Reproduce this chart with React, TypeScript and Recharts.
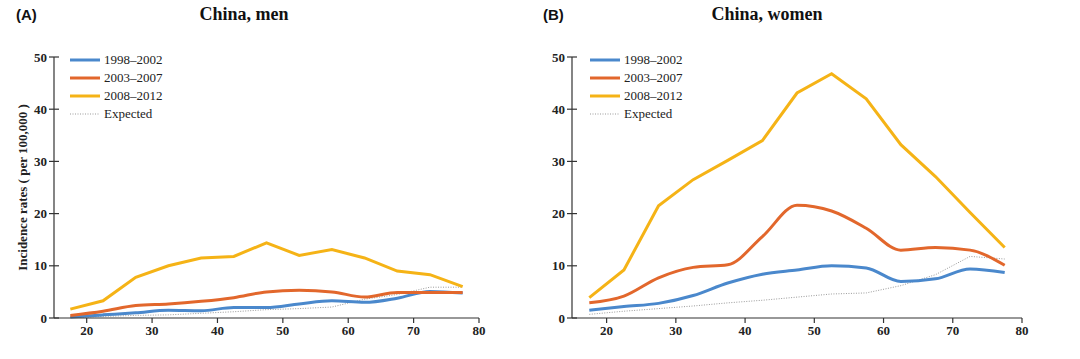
import { LineChart, Line, XAxis, YAxis, Legend } from "recharts";

const AGES = [17.5, 22.5, 27.5, 32.5, 37.5, 42.5, 47.5, 52.5, 57.5, 62.5, 67.5, 72.5, 77.5];

const MEN_1998 = [0.2, 0.6, 1.0, 1.5, 1.4, 2.0, 2.0, 2.7, 3.3, 3.0, 3.8, 5.1, 4.8];
const MEN_2003 = [0.5, 1.3, 2.4, 2.7, 3.2, 3.9, 5.0, 5.3, 5.0, 4.0, 4.9, 4.9, 4.9];
const MEN_2008 = [1.7, 3.3, 7.8, 10.0, 11.5, 11.8, 14.4, 12.0, 13.1, 11.5, 9.0, 8.3, 6.0];
const MEN_EXPECTED = [0.1, 0.3, 0.5, 0.6, 0.9, 1.2, 1.6, 1.8, 2.1, 3.6, 4.5, 5.9, 5.9];

const WOMEN_1998 = [1.5, 2.2, 2.8, 4.3, 6.7, 8.4, 9.2, 10.0, 9.6, 7.0, 7.5, 9.4, 8.7];
const WOMEN_2003 = [2.9, 4.2, 7.7, 9.7, 10.2, 15.6, 21.6, 20.5, 17.2, 13.0, 13.5, 13.0, 10.1];
const WOMEN_2008 = [3.9, 9.2, 21.5, 26.5, 30.2, 34.0, 43.1, 46.8, 42.0, 33.2, 27.1, 20.2, 13.5];
const WOMEN_EXPECTED = [0.7, 1.3, 1.8, 2.3, 2.9, 3.4, 4.0, 4.6, 4.8, 6.2, 8.3, 11.8, 11.3];

const X_TICKS = [20, 30, 40, 50, 60, 70, 80];
const Y_TICKS = [0, 10, 20, 30, 40, 50];

const BLUE = "#4a88cc";
const ORANGE = "#e2672c";
const YELLOW = "#f5b316";
const GREY = "#9a9a9a";
const AXIS = "#333";
const SERIF = "'Liberation Serif', 'Times New Roman', serif";

function buildRows(s1: number[], s2: number[], s3: number[], ex: number[]) {
  return AGES.map((age, i) => ({ age, p1: s1[i], p2: s2[i], p3: s3[i], ex: ex[i] }));
}

const LEGEND_ITEMS = [
  { label: "1998\u20132002", color: BLUE, dotted: false },
  { label: "2003\u20132007", color: ORANGE, dotted: false },
  { label: "2008\u20132012", color: YELLOW, dotted: false },
  { label: "Expected", color: GREY, dotted: true }
];

function LegendBox() {
  return (
    <div style={{ fontFamily: SERIF, fontSize: 13, color: "#222" }}>
      {LEGEND_ITEMS.map((it) => (
        <div key={it.label} style={{ display: "flex", alignItems: "center", height: 18 }}>
          <svg width={30} height={6} style={{ marginRight: 4 }}>
            {it.dotted ? (
              <line x1={0} y1={3} x2={30} y2={3} stroke={it.color} strokeWidth={1} strokeDasharray="1 1.5" />
            ) : (
              <line x1={0} y1={3} x2={30} y2={3} stroke={it.color} strokeWidth={3} />
            )}
          </svg>
          <span>{it.label}</span>
        </div>
      ))}
    </div>
  );
}

function YTick(props: any) {
  const { x, y, payload } = props;
  return (
    <g>
      <line x1={x + 2} y1={y} x2={x + 12} y2={y} stroke={AXIS} strokeWidth={1.2} />
      <text x={x} y={y} dy={4.5} textAnchor="end" fontFamily={SERIF} fontWeight="bold" fontSize={13} fill="#222">
        {payload.value}
      </text>
    </g>
  );
}

type PanelProps = {
  rows: any[];
  width: number;
  left: number;
  right: number;
  legendLeft: number;
  yLabel?: string;
};

function Panel({ rows, width, left, right, legendLeft, yLabel }: PanelProps) {
  return (
    <LineChart width={width} height={359} data={rows} margin={{ top: 57, right, bottom: 0, left: 0 }}>
      <XAxis
        dataKey="age"
        type="number"
        domain={[15, 80]}
        ticks={X_TICKS}
        allowDataOverflow
        height={41}
        stroke={AXIS}
        strokeWidth={1.2}
        tickSize={5}
        tickMargin={3}
        tick={{ fontFamily: SERIF, fontWeight: "bold", fontSize: 13, fill: "#222" }}
      />
      <YAxis
        domain={[0, 50]}
        ticks={Y_TICKS}
        width={left}
        stroke={AXIS}
        strokeWidth={1.2}
        tickLine={false}
        tickSize={5}
        tickMargin={2}
        tick={<YTick />}
        label={
          yLabel
            ? {
                value: yLabel,
                angle: -90,
                position: "center",
                dx: -5,
                style: { fontFamily: SERIF, fontWeight: "bold", fontSize: 13, fill: "#222", textAnchor: "middle" }
              }
            : undefined
        }
      />
      <Legend
        verticalAlign="middle"
        align="center"
        layout="vertical"
        content={() => <LegendBox />}
        wrapperStyle={{ position: "absolute", left: legendLeft, top: 51, width: 120 }}
      />
      <Line type="linear" dataKey="ex" stroke={GREY} strokeWidth={1} strokeDasharray="1 1.5" dot={false} isAnimationActive={false} />
      <Line type="monotone" dataKey="p1" stroke={BLUE} strokeWidth={3} dot={false} isAnimationActive={false} />
      <Line type="monotone" dataKey="p2" stroke={ORANGE} strokeWidth={3} dot={false} isAnimationActive={false} />
      <Line type="linear" dataKey="p3" stroke={YELLOW} strokeWidth={3} dot={false} isAnimationActive={false} />
    </LineChart>
  );
}

const titleStyle: React.CSSProperties = {
  position: "absolute",
  top: 4,
  fontFamily: SERIF,
  fontWeight: "bold",
  fontSize: 18,
  color: "#111",
  transform: "translateX(-50%)",
  whiteSpace: "nowrap"
};

const letterStyle: React.CSSProperties = {
  position: "absolute",
  top: 6,
  fontFamily: "'Liberation Sans', Arial, sans-serif",
  fontWeight: "bold",
  fontSize: 15,
  color: "#111"
};

export default function App() {
  const men = buildRows(MEN_1998, MEN_2003, MEN_2008, MEN_EXPECTED);
  const women = buildRows(WOMEN_1998, WOMEN_2003, WOMEN_2008, WOMEN_EXPECTED);
  return (
    <div style={{ position: "absolute", left: 0, top: 0, width: 1080, height: 359, background: "#fff" }}>
      <div style={{ position: "absolute", left: 0, top: 0 }}>
        <Panel rows={men} width={540} left={54} right={61} legendLeft={70} yLabel="Incidence rates ( per 100,000 )" />
      </div>
      <div style={{ position: "absolute", left: 540, top: 0 }}>
        <Panel rows={women} width={540} left={32} right={58} legendLeft={50} />
      </div>
      <div style={{ ...letterStyle, left: 16 }}>(A)</div>
      <div style={{ ...titleStyle, left: 244 }}>China, men</div>
      <div style={{ ...letterStyle, left: 543 }}>(B)</div>
      <div style={{ ...titleStyle, left: 767 }}>China, women</div>
    </div>
  );
}
